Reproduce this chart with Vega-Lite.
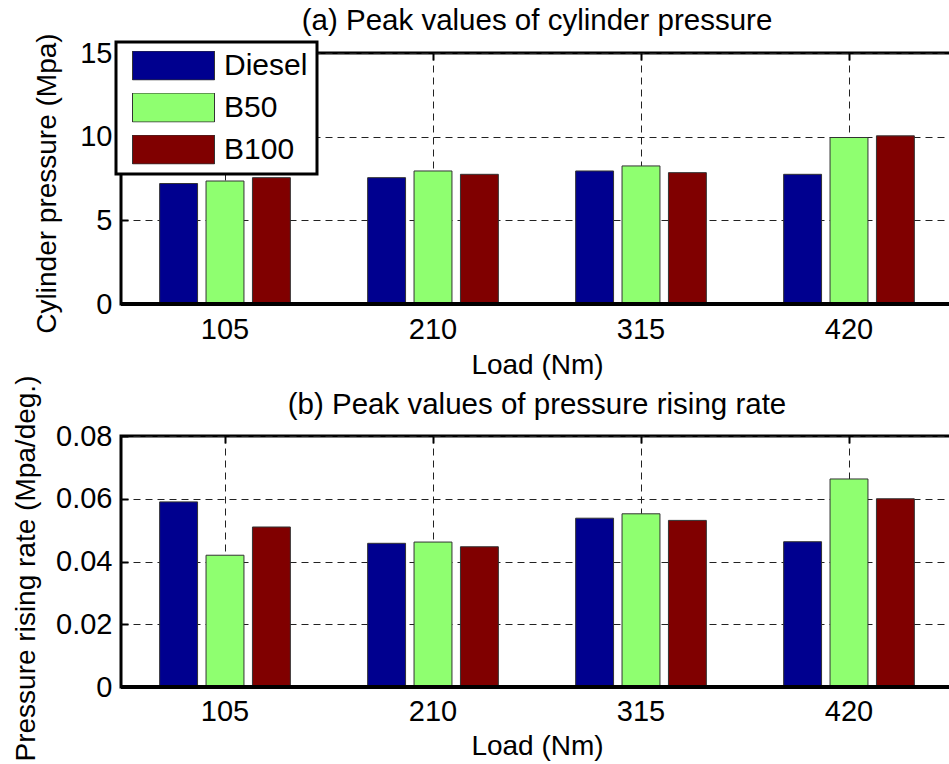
{
  "$schema": "https://vega.github.io/schema/vega-lite/v6.json",
  "background": "white",
  "padding": {"left": 11, "top": 4, "right": 0, "bottom": 0},
  "config": {
    "font": "Liberation Sans",
    "view": {"stroke": "black", "strokeWidth": 3},
    "axis": {
      "labelFontSize": 29, "titleFontSize": 28, "labelColor": "black", "titleColor": "black",
      "titleFontWeight": "normal", "labelFont": "Liberation Sans", "titleFont": "Liberation Sans",
      "gridColor": "#222", "gridDash": [7, 5], "gridWidth": 1, "gridOpacity": 1,
      "domain": false, "tickColor": "black", "tickWidth": 2, "tickSize": -7
    },
    "title": {"fontSize": 29.5, "fontWeight": "normal", "color": "black", "font": "Liberation Sans", "anchor": "middle"}
  },
  "datasets": {
    "peak": [
      {"Load": "105", "Fuel": "Diesel", "pressure": 7.2, "rate": 0.059},
      {"Load": "105", "Fuel": "B50", "pressure": 7.35, "rate": 0.042},
      {"Load": "105", "Fuel": "B100", "pressure": 7.55, "rate": 0.051},
      {"Load": "210", "Fuel": "Diesel", "pressure": 7.55, "rate": 0.0458},
      {"Load": "210", "Fuel": "B50", "pressure": 7.95, "rate": 0.0462},
      {"Load": "210", "Fuel": "B100", "pressure": 7.75, "rate": 0.0447},
      {"Load": "315", "Fuel": "Diesel", "pressure": 7.95, "rate": 0.0538},
      {"Load": "315", "Fuel": "B50", "pressure": 8.25, "rate": 0.0552},
      {"Load": "315", "Fuel": "B100", "pressure": 7.85, "rate": 0.0531},
      {"Load": "420", "Fuel": "Diesel", "pressure": 7.75, "rate": 0.0463},
      {"Load": "420", "Fuel": "B50", "pressure": 9.95, "rate": 0.0663},
      {"Load": "420", "Fuel": "B100", "pressure": 10.05, "rate": 0.06}
    ]
  },
  "data": {"name": "peak"},
  "spacing": 132,
  "bounds": "flush",
  "vconcat": [
    {
      "width": 832, "height": 251,
      "title": {"text": "(a) Peak values of cylinder pressure", "offset": -4},
      "layer": [
        {
          "mark": {"type": "bar", "stroke": "#333", "strokeWidth": 1},
          "encoding": {
            "x": {"field": "Load", "type": "nominal", "sort": ["105", "210", "315", "420"],
                  "scale": {"paddingInner": 0, "paddingOuter": 0},
                  "axis": {"title": "Load (Nm)", "labelAngle": 0, "ticks": false, "grid": true, "bandPosition": 0.5, "labelPadding": 11, "titlePadding": 7}},
            "xOffset": {"field": "Fuel", "type": "nominal", "sort": ["Diesel", "B50", "B100"],
                        "scale": {"paddingInner": 0.183, "paddingOuter": 0.833}},
            "y": {"field": "pressure", "type": "quantitative", "scale": {"domain": [0, 15], "nice": false},
                  "axis": {"title": "Cylinder pressure (Mpa)", "values": [0, 5, 10, 15], "grid": true, "labelPadding": 16, "titlePadding": 18, "titleY": 130}},
            "color": {"field": "Fuel", "type": "nominal", "sort": ["Diesel", "B50", "B100"],
                      "scale": {"domain": ["Diesel", "B50", "B100"], "range": ["#00008F", "#8FFF70", "#800000"]},
                      "legend": {
                        "title": null, "orient": "none", "legendX": -5, "legendY": -11,
                        "direction": "vertical",
                        "fillColor": "white", "strokeColor": "black", "padding": 9,
                        "labelFontSize": 30, "labelFont": "Liberation Sans", "labelColor": "black",
                        "symbolType": "M-1,-0.354H1V0.354H-1Z", "symbolSize": 6724, "clipHeight": 29,
                        "symbolStrokeColor": "#333", "symbolStrokeWidth": 1, "symbolOffset": 7,
                        "labelOffset": 9, "rowPadding": 11,
                        "encode": {"legend": {"update": {"strokeWidth": {"value": 3}}}}
                      }}
          }
        },
        {
          "mark": {"type": "rule", "opacity": 0},
          "encoding": {
            "x": {"field": "Load", "type": "nominal", "sort": ["105", "210", "315", "420"],
                  "axis": {"orient": "top", "labels": false, "title": null, "grid": false, "bandPosition": 0.5, "ticks": true}},
            "y": {"datum": 0, "type": "quantitative", "axis": null}
          }
        },
        {
          "mark": {"type": "rule", "strokeWidth": 3, "color": "black"},
          "encoding": {"y": {"datum": 0, "type": "quantitative", "axis": null}}
        }
      ],
      "resolve": {"axis": {"x": "independent", "y": "independent"}}
    },
    {
      "width": 832, "height": 251,
      "title": {"text": "(b) Peak values of pressure rising rate", "offset": -45},
      "layer": [
        {
          "mark": {"type": "bar", "stroke": "#333", "strokeWidth": 1},
          "encoding": {
            "x": {"field": "Load", "type": "nominal", "sort": ["105", "210", "315", "420"],
                  "scale": {"paddingInner": 0, "paddingOuter": 0},
                  "axis": {"title": "Load (Nm)", "labelAngle": 0, "ticks": false, "grid": true, "bandPosition": 0.5, "labelPadding": 10, "titlePadding": 6}},
            "xOffset": {"field": "Fuel", "type": "nominal", "sort": ["Diesel", "B50", "B100"],
                        "scale": {"paddingInner": 0.183, "paddingOuter": 0.833}},
            "y": {"field": "rate", "type": "quantitative", "scale": {"domain": [0, 0.08], "nice": false},
                  "axis": {"title": "Pressure rising rate (Mpa/deg.)", "values": [0, 0.02, 0.04, 0.06, 0.08], "format": "~g", "grid": true, "labelPadding": 16, "titlePadding": 15, "titleY": 132}},
            "color": {"field": "Fuel", "type": "nominal", "sort": ["Diesel", "B50", "B100"],
                      "scale": {"domain": ["Diesel", "B50", "B100"], "range": ["#00008F", "#8FFF70", "#800000"]},
                      "legend": null}
          }
        },
        {
          "mark": {"type": "rule", "opacity": 0},
          "encoding": {
            "x": {"field": "Load", "type": "nominal", "sort": ["105", "210", "315", "420"],
                  "axis": {"orient": "top", "labels": false, "title": null, "grid": false, "bandPosition": 0.5, "ticks": true}},
            "y": {"datum": 0, "type": "quantitative", "axis": null}
          }
        },
        {
          "mark": {"type": "rule", "strokeWidth": 3, "color": "black"},
          "encoding": {"y": {"datum": 0, "type": "quantitative", "axis": null}}
        }
      ],
      "resolve": {"axis": {"x": "independent", "y": "independent"}}
    }
  ]
}
